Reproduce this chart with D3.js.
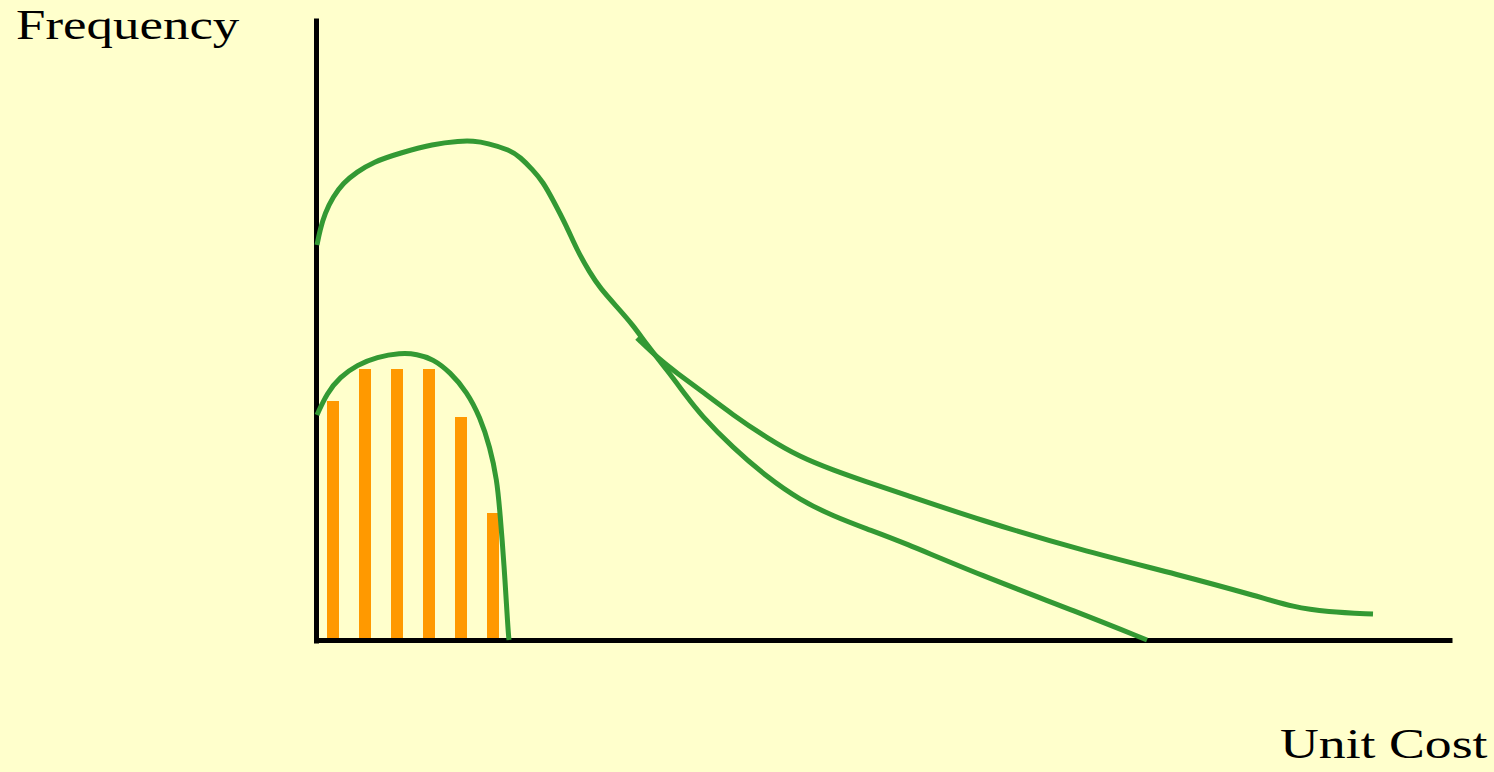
<!DOCTYPE html>
<html>
<head>
<meta charset="utf-8">
<script src="https://cdn.jsdelivr.net/npm/d3@7"></script>
<style>
  html, body { margin: 0; padding: 0; background: #FFFFCC; }
  svg { display: block; }
</style>
</head>
<body>
<svg id="chart" width="1494" height="772"></svg>
<script>
// ---- data ----
const binCenters = [1.6, 4.8, 8.0, 11.2, 14.4, 17.6];
const binCounts  = [23.9, 27.1, 27.1, 27.1, 22.3, 12.7];
const binWidth = 1.2;

const smallCurveX = [0, 1.0, 2.3, 4.0, 6.0, 8.3, 10.0, 11.6, 13.3, 15.0, 16.3, 17.3, 18.0, 18.3, 18.7, 19.1, 19.2];
const smallCurveY = [22.5, 24.7, 26.3, 27.5, 28.3, 28.7, 28.6, 28.1, 26.8, 24.8, 22.3, 19.3, 16.0, 12.7, 7.7, 1.0, 0];

const bigCurveX = [0, 0.3, 0.8, 1.6, 2.6, 4.0, 5.6, 8.3, 11.6, 14.3, 15.6, 17.0, 19.3, 20.3, 21.6, 22.6, 23.6, 25.0, 26.0, 27.3, 28.3, 30.0, 31.6, 33.0, 35.0, 37.0, 38.3, 41.6, 45.0, 48.3, 51.6, 55.0, 58.3, 66.3, 76.3, 83.0];
const bigCurveY = [39.5, 41.0, 42.7, 44.3, 45.7, 46.8, 47.8, 48.7, 49.6, 49.9, 49.9, 49.7, 49.0, 48.3, 47.0, 45.8, 44.0, 41.3, 39.0, 36.7, 35.2, 33.3, 31.5, 29.5, 27.0, 24.3, 22.6, 19.2, 16.3, 14.0, 12.4, 11.1, 9.9, 6.5, 2.7, 0];

const tailCurveX = [32.0, 34.3, 36.0, 38.3, 41.6, 45.0, 48.3, 51.6, 55.0, 58.3, 66.3, 76.3, 86.3, 94.3, 97.6, 101.0, 105.6];
const tailCurveY = [30.2, 28.0, 26.7, 25.0, 22.5, 20.2, 18.3, 17.0, 15.8, 14.7, 12.0, 9.0, 6.5, 4.3, 3.3, 2.8, 2.6];

const xLabel = "Unit Cost";
const yLabel = "Frequency";

// ---- drawing ----
const svg = d3.select("#chart");
svg.append("rect").attr("width", 1494).attr("height", 772).attr("fill", "#FFFFCC");

const x = d3.scaleLinear().domain([0, 113.5]).range([317, 1452]);
const y = d3.scaleLinear().domain([0, 62.2]).range([640, 18]);

// bars
svg.append("g").selectAll("rect")
  .data(binCenters.map((c, i) => ({c, v: binCounts[i]})))
  .join("rect")
  .attr("x", d => x(d.c - binWidth / 2))
  .attr("width", d => x(d.c + binWidth / 2) - x(d.c - binWidth / 2))
  .attr("y", d => y(d.v))
  .attr("height", d => y(0) - y(d.v))
  .attr("fill", "#FF9900");

// axes
svg.append("g").attr("transform", "translate(316,0)")
  .call(d3.axisLeft(d3.scaleLinear().domain([0, 1]).range([643, 18])).tickValues([]).tickSizeOuter(0));
svg.append("g").attr("transform", "translate(0,640)")
  .call(d3.axisBottom(d3.scaleLinear().domain([0, 1]).range([316, 1452])).tickValues([]).tickSizeOuter(0));
svg.selectAll(".domain").attr("stroke", "#000").attr("stroke-width", 5);

// curves
const line = d3.line().x(d => x(d[0])).y(d => y(d[1])).curve(d3.curveBasis);
const curves = [
  d3.zip(smallCurveX, smallCurveY),
  d3.zip(bigCurveX, bigCurveY),
  d3.zip(tailCurveX, tailCurveY)
];
svg.append("g").selectAll("path")
  .data(curves)
  .join("path")
  .attr("d", line)
  .attr("fill", "none")
  .attr("stroke", "#339933")
  .attr("stroke-width", 5)
  .attr("stroke-linecap", "butt")
  .attr("stroke-linejoin", "round");

// labels
svg.append("text")
  .attr("transform", "translate(16,39) scale(1.26,1)")
  .attr("font-family", "'Liberation Serif', 'Times New Roman', serif")
  .attr("font-size", 42)
  .attr("fill", "#000")
  .text(yLabel);

svg.append("text")
  .attr("transform", "translate(1280,758) scale(1.28,1)")
  .attr("font-family", "'Liberation Serif', 'Times New Roman', serif")
  .attr("font-size", 42)
  .attr("fill", "#000")
  .text(xLabel);
</script>
</body>
</html>
